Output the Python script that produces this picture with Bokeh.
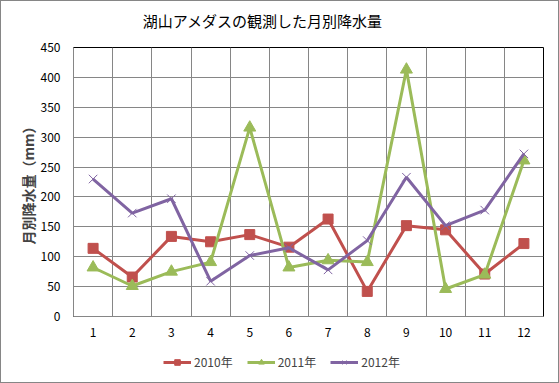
from bokeh.plotting import figure
from bokeh.layouts import column
from bokeh.models import FixedTicker, Legend, LegendItem, Range1d, Label
from bokeh.embed import file_html
from bokeh.resources import INLINE

months = list(range(1, 13))
rain_2010 = [114, 66, 134, 125, 137, 116, 163, 42, 152, 145, 71, 122]
rain_2011 = [82, 51, 75, 91, 316, 82, 94, 91, 413, 46, 70, 261]
rain_2012 = [230, 173, 197, 59, 102, 115, 78, 127, 233, 152, 178, 272]
y_ticks = list(range(0, 451, 50))
title_text = "湖山アメダスの観測した月別降水量"
y_label = "月別降水量（mm）"
series_names = ["2010年", "2011年", "2012年"]

FONT = "Noto Sans CJK JP"
GRID = "#868686"
RED, GREEN, PURPLE = "#C0504D", "#9BBB59", "#8064A2"

# title strip
r = figure(width=557, height=38, output_backend="svg", toolbar_location=None,
           x_range=Range1d(0.5, 12.5), y_range=Range1d(0, 38),
           min_border_left=0, min_border_right=0, min_border_top=0, min_border_bottom=0)
r.axis.visible = False
r.grid.visible = False
r.outline_line_color = None
r.add_layout(Label(x=5.33, y=19, text=title_text, text_align="center", text_baseline="middle",
                   text_font=FONT, text_font_size="15px", text_color="black"))

p = figure(width=557, height=307, output_backend="svg", toolbar_location=None,
           x_range=Range1d(0.5, 12.5), y_range=Range1d(0, 450),
           min_border_left=72, min_border_right=15, min_border_top=8, min_border_bottom=30)
p.outline_line_color = "black"
p.outline_line_width = 1

p.xaxis.ticker = FixedTicker(ticks=months)
p.yaxis.ticker = FixedTicker(ticks=y_ticks)
for ax in (p.xaxis[0], p.yaxis[0]):
    ax.axis_line_color = GRID
    ax.major_tick_line_color = None
    ax.minor_tick_line_color = None
    ax.major_label_text_font = FONT
    ax.major_label_text_font_size = "12px"
    ax.major_label_text_color = "black"
p.yaxis.major_label_standoff = 7
p.xaxis.major_label_standoff = 5
p.yaxis.axis_label = y_label
p.yaxis.axis_label_text_font = FONT
p.yaxis.axis_label_text_font_size = "14px"
p.yaxis.axis_label_text_font_style = "bold"
p.yaxis.axis_label_standoff = 0

p.xgrid.ticker = FixedTicker(ticks=[m + 0.5 for m in months[:-1]])
p.xgrid.grid_line_color = GRID
p.ygrid.grid_line_color = GRID

series = [(rain_2010, RED, "square", 10, 1), (rain_2011, GREEN, "triangle", 12, 1),
          (rain_2012, PURPLE, "x", 12, 1)]
for vals, col, mk, sz, lw in series:
    p.line(months, vals, line_color=col, line_width=3)
    if mk == "x":
        p.scatter(months, vals, marker=mk, size=sz, line_color=col, line_width=lw)
    else:
        p.scatter(months, vals, marker=mk, size=sz, fill_color=col, line_color=col)

# legend strip below the chart (its renderers sit outside the strip's visible range)
q = figure(width=557, height=36, output_backend="svg", toolbar_location=None,
           x_range=Range1d(0, 1), y_range=Range1d(0, 1),
           min_border_left=0, min_border_right=0, min_border_top=0, min_border_bottom=0)
q.axis.visible = False
q.grid.visible = False
q.outline_line_color = None
items = []
for (vals, col, mk, sz, lw), name in zip(series, series_names):
    lr = q.line([-10, -9], [-10, -9], line_color=col, line_width=3)
    if mk == "x":
        mr = q.scatter([-10], [-10], marker=mk, size=sz, line_color=col, line_width=lw)
    else:
        mr = q.scatter([-10], [-10], marker=mk, size=sz - 2, fill_color=col, line_color=col)
    items.append(LegendItem(label=name, renderers=[lr, mr]))

legend = Legend(items=items, orientation="horizontal", location=(90, 12),
                glyph_width=28, glyph_height=14,
                label_text_font=FONT, label_text_font_size="12px", spacing=14,
                label_standoff=3, padding=0, margin=0, border_line_color=None,
                background_fill_alpha=0)
q.add_layout(legend, "center")

layout = column(r, p, q, spacing=0, styles={"border": "1px solid #868686"})
open("out.html", "w").write(file_html(layout, INLINE))
